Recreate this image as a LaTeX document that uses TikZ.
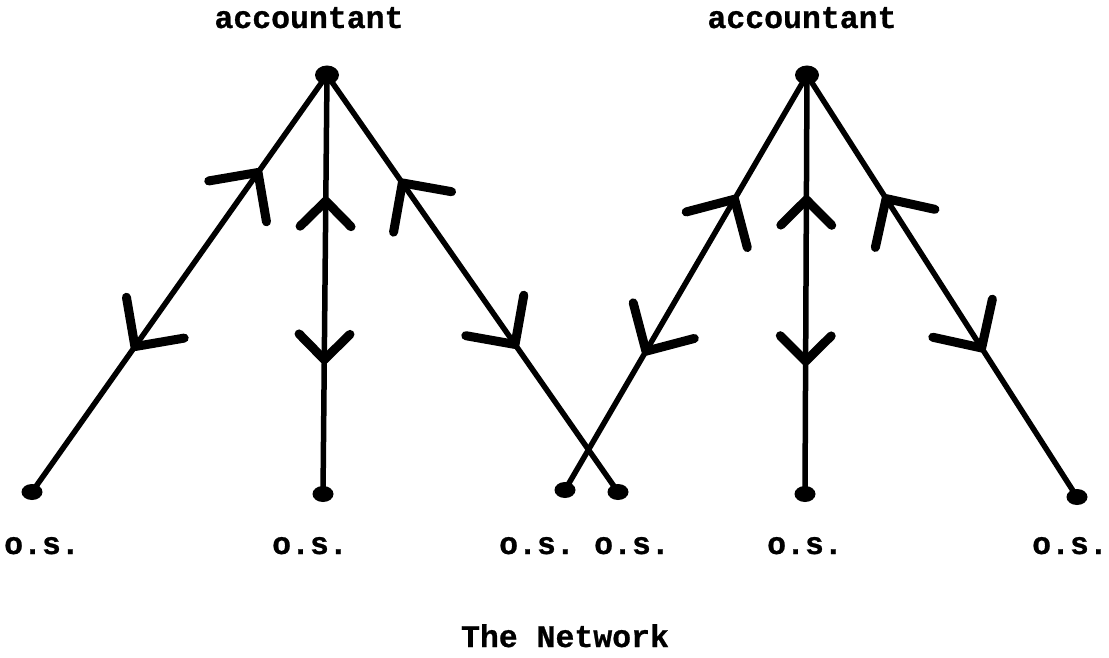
\documentclass[tikz,border=0pt]{standalone}
\usepackage{fontspec}
\newfontfamily\tw{Liberation Mono}[BoldFeatures={FakeBold=0.8}]
\usetikzlibrary{arrows.meta,decorations.markings,shapes.geometric}
\tikzset{
  dot/.style={ellipse, fill=black, inner sep=0pt, minimum width=21pt, minimum height=16pt},
  apexdot/.style={dot, minimum width=24pt, minimum height=19pt},
  lbl/.style={font=\tw\bfseries\fontsize{31.5pt}{36pt}\selectfont, anchor=base, inner sep=0pt},
  edge/.style={line width=5.5pt, line cap=round},
  twoway/.style n args={4}{postaction={decorate}, decoration={markings,
    mark=at position #1 with {\arrowreversed{Straight Barb[angle=90:#3,line width=9pt,round]}},
    mark=at position #2 with {\arrow{Straight Barb[angle=90:#4,line width=9pt,round]}}}}
}
\begin{document}
\begin{tikzpicture}[x=1pt,y=-1pt]
\useasboundingbox (0,0) rectangle (1109,658);
% dots
\node[apexdot] (la) at (327,75) {};
\node[apexdot] (ra) at (807,75) {};
\node[dot] (l1) at (32,492) {};
\node[dot] (l2) at (323,494) {};
\node[dot] (l3) at (618,492) {};
\node[dot] (r1) at (565,490) {};
\node[dot] (r2) at (805,494) {};
\node[dot] (r3) at (1077,497) {};
% edges
\draw[edge, twoway={0.225}{0.66}{50pt}{50pt}] (la.center) -- (l1.center);
\draw[edge, twoway={0.29}{0.69}{36pt}{36pt}] (la.center) -- (l2.center);
\draw[edge, twoway={0.25}{0.655}{50pt}{50pt}] (la.center) -- (l3.center);
\draw[edge, twoway={0.29}{0.675}{50pt}{50pt}] (ra.center) -- (r1.center);
\draw[edge, twoway={0.287}{0.694}{36pt}{36pt}] (ra.center) -- (r2.center);
\draw[edge, twoway={0.284}{0.656}{50pt}{50pt}] (ra.center) -- (r3.center);
% labels
\node[lbl] (acl) at (309,28) {accountant};
\node[lbl] (acr) at (802,28) {accountant};
\node[lbl] (o1) at (42,554) {o.s.};
\node[lbl] (o2) at (310,554) {o.s.};
\node[lbl] (o3) at (537,554) {o.s.};
\node[lbl] (o4) at (632,554) {o.s.};
\node[lbl] (o5) at (805,554) {o.s.};
\node[lbl] (o6) at (1070,554) {o.s.};
\node[lbl] (title) at (565,647) {The Network};
\end{tikzpicture}
\end{document}
